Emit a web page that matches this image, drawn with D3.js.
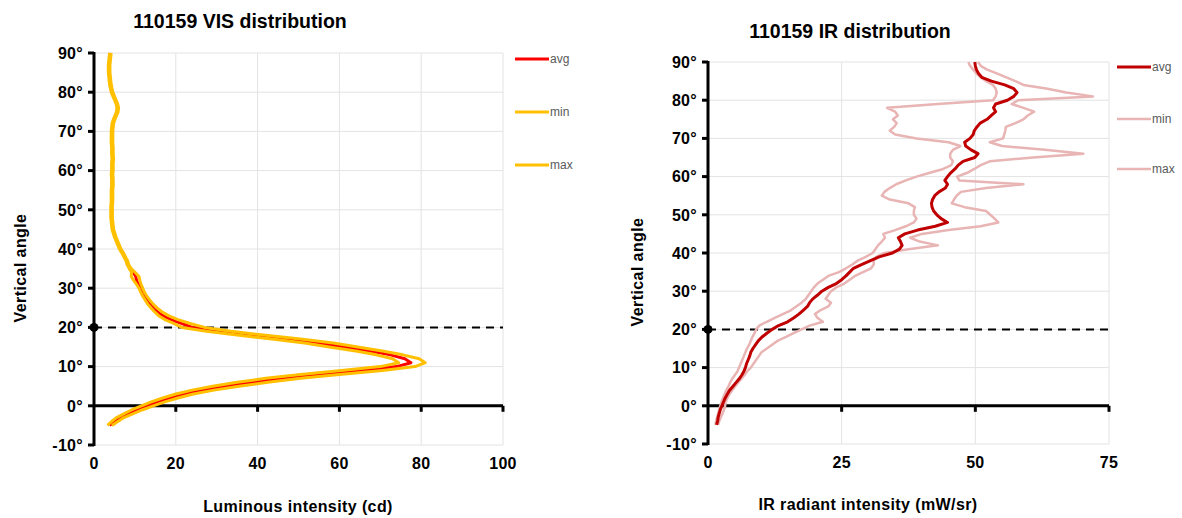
<!DOCTYPE html>
<html>
<head>
<meta charset="utf-8">
<script src="https://cdn.jsdelivr.net/npm/d3@7"></script>
<style>
  body { margin: 0; background: #fff; }
  svg { display: block; font-family: "Liberation Sans", Arial, sans-serif; }
  .tick-label { font-size: 16px; font-weight: bold; fill: #000; letter-spacing: 0.3px; }
  .title { font-size: 19.5px; font-weight: bold; fill: #000; }
  .axis-title { font-size: 16px; font-weight: bold; fill: #000; letter-spacing: 0.4px; }
  .legend-label { font-size: 12px; fill: #595959; }
</style>
</head>
<body>
<svg id="chart" width="1182" height="518"></svg>
<script>
// vertical angle, -5° .. 90° in 1° steps
var angles = d3.range(-5, 91);

// VIS luminous intensity (cd)
var visAvg = [3.8, 5.0, 6.3, 8.4, 10.5,
  13, 15.5, 18.5, 22, 26.5, 32, 38.5, 46, 55, 65,
  74, 77.5, 76, 72.5, 67.5, 61, 55, 47.5, 38.8, 30.5,
  24, 21.5, 18.8, 16.8, 15.5, 14.5, 13.6, 12.9, 12.3, 11.8,
  11.4, 10.8, 10.4, 10.2, 9.6, 8.8, 8.3, 8.0, 7.5, 7.0,
  6.4, 6.0, 5.6, 5.2, 4.9, 4.6, 4.5, 4.4, 4.3, 4.3,
  4.3, 4.3, 4.4, 4.4, 4.4, 4.4, 4.5, 4.5, 4.5, 4.4,
  4.5, 4.5, 4.5, 4.6, 4.5, 4.5, 4.5, 4.4, 4.4, 4.4,
  4.4, 4.5, 4.6, 4.9, 5.3, 5.7, 5.8, 5.6, 5.2, 4.8,
  4.4, 4.2, 4.0, 3.9, 3.8, 3.7, 3.7, 3.7, 3.8, 3.9, 4.0];
var visMin = [3.3, 4.3, 5.5, 7.4, 9.3,
  11.6, 14, 16.8, 20, 24, 29, 35, 42, 50.5, 60.5,
  70, 74.5, 73, 69, 64, 57.5, 51.5, 44, 35.5, 27.5,
  21.5, 19.5, 17.3, 15.8, 14.8, 13.9, 13.1, 12.5, 11.9, 11.4,
  11.0, 10.4, 9.7, 9.1, 9.2, 8.6, 8.1, 7.8, 7.3, 6.8,
  6.2, 5.8, 5.4, 5.0, 4.7, 4.4, 4.3, 4.2, 4.1, 4.1,
  4.1, 4.1, 4.2, 4.2, 4.2, 4.2, 4.3, 4.3, 4.3, 4.2,
  4.3, 4.3, 4.3, 4.4, 4.3, 4.3, 4.3, 4.2, 4.2, 4.2,
  4.2, 4.3, 4.4, 4.7, 5.1, 5.5, 5.6, 5.4, 5.0, 4.6,
  4.2, 4.0, 3.8, 3.7, 3.6, 3.5, 3.5, 3.5, 3.6, 3.7, 3.8];
var visMax = [4.4, 5.8, 7.3, 9.6, 11.9,
  14.5, 17.3, 20.5, 24.3, 29.3, 35.5, 42.5, 50.5, 60, 70.5,
  78.5, 81, 79.5, 75.5, 70.5, 64.5, 58.5, 51, 42, 33.5,
  27, 23.5, 20.5, 18.2, 16.6, 15.4, 14.4, 13.6, 12.9, 12.3,
  11.9, 11.5, 11.2, 11.0, 10.1, 9.1, 8.5, 8.2, 7.7, 7.2,
  6.6, 6.2, 5.8, 5.4, 5.1, 4.8, 4.7, 4.6, 4.5, 4.5,
  4.5, 4.5, 4.6, 4.6, 4.6, 4.6, 4.7, 4.7, 4.7, 4.6,
  4.7, 4.7, 4.7, 4.8, 4.7, 4.7, 4.7, 4.6, 4.6, 4.6,
  4.6, 4.7, 4.8, 5.1, 5.5, 5.9, 6.0, 5.8, 5.4, 5.0,
  4.6, 4.4, 4.2, 4.1, 4.0, 3.9, 3.9, 3.9, 4.0, 4.1, 4.2];

// IR radiant intensity (mW/sr)
var irAvg = [1.6, 1.8, 1.9, 2.1, 2.3,
  2.6, 2.9, 3.2, 3.6, 4.0, 4.6, 5.2, 5.8, 6.3, 6.7,
  7.0, 7.2, 7.5, 7.8, 8.0, 8.4, 8.9, 9.4, 10.1, 11.0,
  12.0, 13.2, 14.9, 16.0, 17.0, 17.8, 18.6, 19.0, 19.6, 20.5,
  21.3, 22.5, 24.0, 25.0, 25.8, 26.5, 27.2, 28.8, 30.4, 32.0,
  34.5, 35.8, 36.3, 36.0, 35.6, 36.8, 39.2, 42.5, 44.8, 43.6,
  42.8, 42.2, 41.9, 41.8, 42.0, 42.4, 43.2, 44.4, 44.8, 44.3,
  44.8, 45.4, 46.2, 46.8, 47.7, 49.9, 50.5, 49.2, 48.2, 48.0,
  49.0, 49.6, 49.8, 50.3, 50.9, 52.2, 53.0, 53.8, 53.4, 53.8,
  56.0, 57.2, 57.8, 57.2, 55.5, 53.0, 51.2, 50.6, 50.2, 50.0, 49.9];
var irMin = [1.4, 1.5, 1.7, 1.9, 2.1,
  2.3, 2.5, 2.8, 3.1, 3.4, 3.8, 4.1, 4.5, 5.0, 5.5,
  5.8, 6.1, 6.4, 6.7, 7.0, 7.3, 7.7, 8.0, 8.3, 8.7,
  9.0, 9.6, 11.0, 12.5, 14.0, 15.5, 16.5, 17.5, 18.3, 18.8,
  19.3, 19.8, 20.5, 21.5, 22.5, 24.5, 25.8, 27.0, 28.0, 29.5,
  30.8, 31.3, 31.8, 32.5, 33.1, 32.8, 35.0, 37.0, 38.5, 39.0,
  38.5, 38.5, 38.7, 37.5, 34.0, 32.5, 33.0, 34.0, 35.2, 37.0,
  39.0, 41.5, 44.0, 45.5, 45.8, 45.3, 45.3, 45.8, 47.2, 45.0,
  39.0, 35.0, 34.0, 34.8, 35.3, 34.6, 35.5, 35.0, 33.5, 43.0,
  53.3, 53.8, 54.0, 53.8, 53.3, 52.0, 51.0, 50.2, 49.6, 49.0, 48.7];
var irMax = [1.9, 2.1, 2.4, 2.7, 3.0,
  3.2, 3.3, 3.6, 4.0, 4.5, 5.0, 5.6, 6.2, 6.8, 7.3,
  8.0, 8.5, 9.0, 9.5, 10.0, 11.0, 12.0, 13.0, 14.5, 16.0,
  17.5, 19.0, 21.5, 20.5, 20.0, 21.0, 22.5, 23.0, 22.0, 22.5,
  23.0, 24.0, 25.5, 26.5, 27.5, 29.0, 30.5, 31.0, 31.0, 31.5,
  33.0, 37.5, 43.0, 39.6, 37.8, 40.0, 45.0, 51.0, 54.3, 53.6,
  52.8, 52.0, 48.0, 45.6, 46.0, 46.5, 47.3, 52.0, 59.0, 47.0,
  46.6, 48.5, 49.8, 51.0, 52.7, 60.8, 70.2, 63.0, 55.0, 52.7,
  55.2, 55.4, 55.6, 55.7, 57.5, 59.0, 59.8, 61.0, 59.0, 56.8,
  58.0, 72.0, 67.0, 63.5, 59.0, 57.5, 55.8, 54.0, 52.2, 51.0, 50.5];

// ticks and labels
var angleTicks = d3.range(-10, 91, 10);
var visXTicks = [0, 20, 40, 60, 80, 100];
var irXTicks = [0, 25, 50, 75];
var seriesNames = ["avg", "min", "max"];

var svg = d3.select("#chart");

function drawPanel(p) {
  var x = d3.scaleLinear().domain(p.xDomain).range([p.left, p.right]);
  var y = d3.scaleLinear().domain([-10, 90]).range([p.bottom, p.top]);
  var g = svg.append("g");

  // grid
  g.selectAll(".vgrid").data(p.xTicks.slice(1)).enter().append("line")
    .attr("x1", d => x(d)).attr("x2", d => x(d))
    .attr("y1", y(90)).attr("y2", y(-10))
    .attr("stroke", "#e3e3e3").attr("stroke-width", 1);
  g.selectAll(".hgrid").data(angleTicks).enter().append("line")
    .attr("x1", x(0)).attr("x2", x(p.xDomain[1]))
    .attr("y1", d => y(d)).attr("y2", d => y(d))
    .attr("stroke", "#e3e3e3").attr("stroke-width", 1);

  // 0° axis with ticks
  g.append("line")
    .attr("x1", x(0)).attr("x2", x(p.xDomain[1]))
    .attr("y1", y(0)).attr("y2", y(0))
    .attr("stroke", "#000").attr("stroke-width", 3);
  g.selectAll(".xtick").data(p.xTicks.slice(1)).enter().append("line")
    .attr("x1", d => x(d)).attr("x2", d => x(d))
    .attr("y1", y(0)).attr("y2", y(0) + 6)
    .attr("stroke", "#000").attr("stroke-width", 3);

  // vertical axis
  g.append("line")
    .attr("x1", x(0)).attr("x2", x(0))
    .attr("y1", y(90) - 1).attr("y2", y(-10) + 1)
    .attr("stroke", "#000").attr("stroke-width", 3);
  g.selectAll(".ytick").data(angleTicks).enter().append("line")
    .attr("x1", x(0) - 6).attr("x2", x(0))
    .attr("y1", d => y(d)).attr("y2", d => y(d))
    .attr("stroke", "#000").attr("stroke-width", 3);

  // 20° reference line
  g.append("line")
    .attr("x1", x(0)).attr("x2", x(p.xDomain[1]))
    .attr("y1", y(20)).attr("y2", y(20))
    .attr("stroke", "#000").attr("stroke-width", 2)
    .attr("stroke-dasharray", "8,6");
  g.append("circle")
    .attr("cx", x(0)).attr("cy", y(20)).attr("r", 4.5)
    .attr("fill", "#000");

  // curves (drawing order differs per panel)
  var line = d3.line()
    .x(d => x(d[1]))
    .y(d => y(d[0]));
  p.order.forEach(function(i) {
    var vals = p.series[i];
    g.append("path")
      .datum(angles.map((a, k) => [a, vals[k]]))
      .attr("d", line)
      .attr("fill", "none")
      .attr("stroke", p.colors[i])
      .attr("stroke-width", p.widths[i])
      .attr("stroke-linejoin", "round");
  });

  // tick labels
  g.selectAll(".ylab").data(angleTicks).enter().append("text")
    .attr("class", "tick-label")
    .attr("x", x(0) - 11).attr("y", d => y(d))
    .attr("dy", "0.36em").attr("text-anchor", "end")
    .text(d => d + "\u00b0");
  g.selectAll(".xlab").data(p.xTicks).enter().append("text")
    .attr("class", "tick-label")
    .attr("x", d => x(d)).attr("y", y(-10) + 24)
    .attr("text-anchor", "middle")
    .text(d => d);

  // titles
  g.append("text").attr("class", "title")
    .attr("x", p.titleX).attr("y", p.titleY)
    .attr("text-anchor", "middle").text(p.title);
  g.append("text").attr("class", "axis-title")
    .attr("transform", "translate(" + p.yTitleX + "," + p.yTitleY + ") rotate(-90)")
    .attr("text-anchor", "middle").text("Vertical angle");
  g.append("text").attr("class", "axis-title")
    .attr("x", p.xTitleX).attr("y", p.xTitleY)
    .attr("text-anchor", "middle").text(p.xTitle);

  // legend
  var lg = g.selectAll(".legend").data(seriesNames).enter().append("g")
    .attr("transform", (d, i) => "translate(" + p.legendX + "," + p.legendY[i] + ")");
  lg.append("line")
    .attr("x1", 0).attr("x2", 34)
    .attr("stroke", (d, i) => p.colors[i])
    .attr("stroke-width", (d, i) => p.widths[i]);
  lg.append("text").attr("class", "legend-label")
    .attr("x", 35).attr("dy", "0.35em")
    .text(d => d);
}

drawPanel({
  left: 94, right: 503, top: 53, bottom: 445,
  xDomain: [0, 100], xTicks: visXTicks,
  series: [visAvg, visMin, visMax],
  colors: ["#ff0000", "#ffc000", "#ffc000"],
  widths: [3, 3, 3],
  order: [0, 1, 2],
  title: "110159 VIS distribution", titleX: 240, titleY: 28,
  xTitle: "Luminous intensity (cd)", xTitleX: 298, xTitleY: 512,
  yTitleX: 26, yTitleY: 268,
  legendX: 515, legendY: [59, 112, 165]
});

drawPanel({
  left: 708, right: 1109, top: 62, bottom: 444,
  xDomain: [0, 75], xTicks: irXTicks,
  series: [irAvg, irMin, irMax],
  colors: ["#c00000", "#e8b4b4", "#e8b4b4"],
  widths: [3, 2.5, 2.5],
  order: [2, 1, 0],
  title: "110159 IR distribution", titleX: 850, titleY: 38,
  xTitle: "IR radiant intensity (mW/sr)", xTitleX: 868, xTitleY: 510,
  yTitleX: 643, yTitleY: 272,
  legendX: 1117, legendY: [67, 119, 169]
});
</script>
</body>
</html>
